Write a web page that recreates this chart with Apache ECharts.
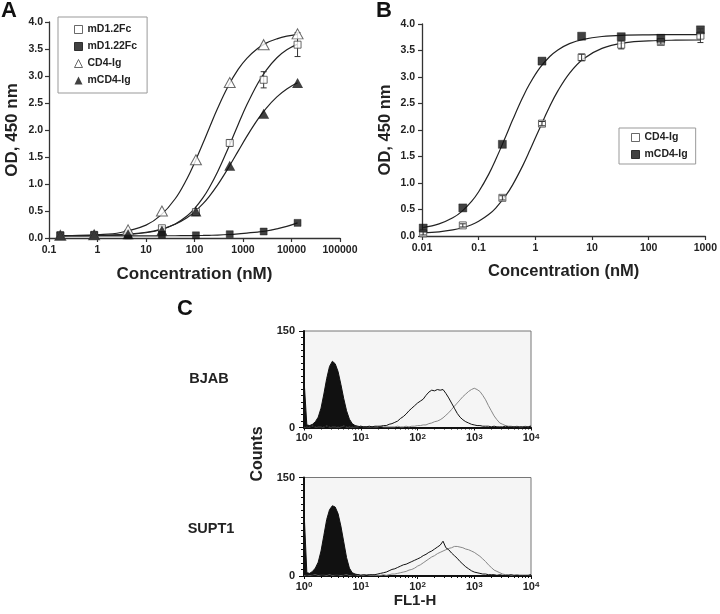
<!DOCTYPE html>
<html><head><meta charset="utf-8">
<script src="https://cdn.jsdelivr.net/npm/echarts@6/dist/echarts.min.js"></script>
<style>html,body{margin:0;padding:0;background:#fff}#c{width:720px;height:614px}</style>
</head><body><div id="c"></div>
<script>
// ---------- Panel A data ----------
const concA = [0.171, 0.853, 4.27, 21.3, 107, 533, 2667, 13333];
const mD12Fc_A = [0.05, 0.05, 0.08, 0.18, 0.48, 1.76, 2.93, 3.58];
const mD12Fc_errA = [0.01, 0.01, 0.02, 0.03, 0.03, 0.06, 0.15, 0.22];
const mD122Fc_A = [0.05, 0.06, 0.05, 0.06, 0.05, 0.07, 0.12, 0.28];
const CD4Ig_A = [0.05, 0.06, 0.15, 0.50, 1.45, 2.88, 3.58, 3.78];
const mCD4Ig_A = [0.05, 0.06, 0.07, 0.14, 0.49, 1.34, 2.30, 2.87];
// fitted curves
const fitX_A = [0.17, 0.3, 1, 3, 10, 20, 40, 70, 100, 150, 200, 300, 500, 800, 1200, 2000, 3000, 5000, 8000, 13333];
const fit_mD12Fc_A = [0.041, 0.042, 0.046, 0.057, 0.097, 0.153, 0.259, 0.407, 0.543, 0.747, 0.926, 1.227, 1.672, 2.107, 2.466, 2.858, 3.106, 3.338, 3.485, 3.590];
const fit_mD122Fc_A = [0.04, 0.04, 0.04, 0.04, 0.041, 0.041, 0.042, 0.043, 0.045, 0.047, 0.05, 0.055, 0.065, 0.078, 0.092, 0.11, 0.13, 0.17, 0.215, 0.28];
const fit_CD4Ig_A = [0.044, 0.046, 0.061, 0.102, 0.239, 0.418, 0.727, 1.098, 1.390, 1.758, 2.029, 2.403, 2.819, 3.126, 3.327, 3.508, 3.609, 3.688, 3.737, 3.770];
const fit_mCD4Ig_A = [0.042, 0.044, 0.049, 0.064, 0.107, 0.161, 0.256, 0.377, 0.484, 0.637, 0.768, 0.984, 1.300, 1.613, 1.882, 2.192, 2.402, 2.614, 2.761, 2.874];
const legendA = ['mD1.2Fc', 'mD1.22Fc', 'CD4-Ig', 'mCD4-Ig'];

// ---------- Panel B data ----------
const concB = [0.0105, 0.0525, 0.262, 1.31, 6.56, 32.8, 164, 820];
const CD4Ig_B = [0.05, 0.20, 0.72, 2.12, 3.37, 3.61, 3.66, 3.78];
const CD4Ig_errB = [0.03, 0.03, 0.04, 0.04, 0.06, 0.08, 0.04, 0.13];
const mCD4Ig_B = [0.15, 0.53, 1.73, 3.30, 3.77, 3.76, 3.73, 3.89];
const fitX_B = [0.0105, 0.02, 0.035, 0.05, 0.075, 0.1, 0.15, 0.2, 0.3, 0.4, 0.6, 0.8, 1.2, 1.8, 2.5, 4, 7, 15, 40, 100, 300, 820];
const fit_CD4Ig_B = [0.059, 0.079, 0.114, 0.151, 0.213, 0.277, 0.404, 0.527, 0.760, 0.970, 1.328, 1.616, 2.040, 2.447, 2.738, 3.070, 3.340, 3.541, 3.647, 3.681, 3.695, 3.698];
const fit_mCD4Ig_B = [0.160, 0.228, 0.343, 0.460, 0.652, 0.834, 1.163, 1.442, 1.878, 2.196, 2.616, 2.876, 3.171, 3.386, 3.511, 3.630, 3.711, 3.764, 3.789, 3.796, 3.799, 3.800];
const legendB = ['CD4-Ig', 'mCD4-Ig'];

// ---------- Panel C data (histogram counts per 0.05-decade channel, 10^0 .. 10^4) ----------
const FLOW_STEP = 0.05;
const BJAB_fill = [75,4,3,5,9,16,30,52,76,95,103,99,87,67,45,26,13,6,3,2,1,1,1,0,1,0,0,1,0,0,0,0,0,0,0,0,0,0,0,0,0,0,0,0,0,0,0,0,0,0,0,0,0,0,0,0,0,0,0,0,0,0,0,0,0,0,0,0,0,0,0,0,0,0,0,0,0,0,0,0,0];
const BJAB_black = [2,1,2,1,2,1,1,2,1,2,1,1,2,1,1,2,1,2,1,1,2,1,1,2,1,2,2,2,3,3,5,6,8,10,14,17,21,26,30,34,38,41,44,50,55,58,57,59,58,59,53,46,38,30,22,16,12,9,7,5,4,3,3,2,2,2,1,2,1,1,1,2,1,1,1,1,1,1,1,1,2];
const BJAB_gray = [1,1,1,2,1,1,1,1,2,1,1,1,1,1,2,1,1,1,1,1,2,1,1,1,1,1,1,2,1,1,1,1,1,2,1,1,2,1,2,2,3,3,4,4,6,7,9,10,12,15,19,23,28,33,38,43,48,52,56,59,61,59,56,50,43,34,26,18,12,7,5,3,2,2,1,2,1,1,2,1,3];
const SUPT1_fill = [100,5,4,7,12,21,38,62,86,101,107,105,95,76,52,28,12,5,3,2,1,1,1,1,0,1,0,0,0,0,0,0,0,0,0,0,0,0,0,0,0,0,0,0,0,0,0,0,0,0,0,0,0,0,0,0,0,0,0,0,0,0,0,0,0,0,0,0,0,0,0,0,0,0,0,0,0,0,0,0,0];
const SUPT1_black = [2,1,2,1,1,2,1,1,2,1,2,1,1,2,1,1,2,1,1,2,1,2,1,2,2,2,3,4,5,6,8,10,11,13,15,17,18,20,22,24,26,28,31,33,36,38,41,44,47,53,43,40,35,31,27,22,18,14,11,8,6,5,4,3,3,2,2,2,1,2,1,1,1,2,1,1,1,1,1,1,2];
const SUPT1_gray = [1,1,1,1,2,1,1,1,1,2,1,1,1,1,1,2,1,1,1,1,1,1,2,1,1,1,1,1,2,1,2,3,3,4,5,6,7,9,10,12,15,17,20,23,26,29,31,34,36,38,40,42,43,45,45,44,43,41,40,38,36,33,30,26,22,17,13,9,7,5,3,2,2,1,1,2,1,1,1,1,2];

const FONT = 'Liberation Sans, Arial, Helvetica, sans-serif';
const TXT = '#222';
const flow = arr => arr.map((c, i) => [Math.pow(10, i * FLOW_STEP), c]);
const pairs = (xs, ys) => xs.map((x, i) => [x, ys[i]]);
const errs = (xs, ys, es) => xs.map((x, i) => [x, ys[i] - es[i], ys[i] + es[i]]);

function logLabel(v) {
  if (v < 1) return String(+v.toPrecision(3));
  return String(Math.round(v));
}

function errRender(params, api) {
  const x = api.value(0), lo = api.value(1), hi = api.value(2);
  const p1 = api.coord([x, lo]), p2 = api.coord([x, hi]);
  const w = 3, st = { stroke: '#333', lineWidth: 1 };
  return { type: 'group', children: [
    { type: 'line', shape: { x1: p1[0], y1: p1[1], x2: p2[0], y2: p2[1] }, style: st },
    { type: 'line', shape: { x1: p1[0] - w, y1: p1[1], x2: p1[0] + w, y2: p1[1] }, style: st },
    { type: 'line', shape: { x1: p2[0] - w, y1: p2[1], x2: p2[0] + w, y2: p2[1] }, style: st }
  ]};
}

const axisLineBlack = { lineStyle: { color: '#333', width: 1.3 } };
const tickBlack = { length: 4, lineStyle: { color: '#333', width: 1.2 } };
const lblStyle = { color: TXT, fontFamily: FONT, fontWeight: 'bold', fontSize: 10.5 };

const openSq = { color: '#fff', borderColor: '#444', borderWidth: 1 };
const fillSq = { color: '#111', borderColor: '#111', borderWidth: 0.5 };
const fitLine = (name, xAxisIndex, yAxisIndex, xs, ys) => ({
  name, type: 'line', xAxisIndex, yAxisIndex, data: pairs(xs, ys), showSymbol: false,
  smooth: 0.4, lineStyle: { color: '#222', width: 1.2 }, z: 2, silent: true
});
const supRich = {
  b: { fontSize: 11, fontWeight: 'bold', color: TXT, fontFamily: FONT },
  s: { fontSize: 8, fontWeight: 'bold', color: TXT, fontFamily: FONT, verticalAlign: 'top', lineHeight: 8 }
};

const option = {
  animation: false,
  backgroundColor: '#fff',
  textStyle: { fontFamily: FONT },
  grid: [
    { left: 49, top: 22, width: 291, height: 216 },
    { left: 422, top: 24, width: 287, height: 212 },
    { left: 304, top: 331, width: 227, height: 96.5, show: true, backgroundColor: '#f5f5f5', borderColor: '#777', borderWidth: 1 },
    { left: 304, top: 477.5, width: 227, height: 98.5, show: true, backgroundColor: '#f5f5f5', borderColor: '#777', borderWidth: 1 }
  ],
  xAxis: [
    { gridIndex: 0, type: 'log', logBase: 10, min: 0.1, max: 100000,
      name: 'Concentration (nM)', nameLocation: 'middle', nameGap: 28,
      nameTextStyle: { color: TXT, fontFamily: FONT, fontWeight: 'bold', fontSize: 17 },
      axisLine: axisLineBlack, axisTick: tickBlack, splitLine: { show: false },
      axisLabel: Object.assign({ margin: 7, formatter: logLabel }, lblStyle) },
    { gridIndex: 1, type: 'log', logBase: 10, min: 0.01, max: 1000,
      name: 'Concentration (nM)', nameLocation: 'middle', nameGap: 27,
      nameTextStyle: { color: TXT, fontFamily: FONT, fontWeight: 'bold', fontSize: 16.5 },
      axisLine: axisLineBlack, axisTick: tickBlack, splitLine: { show: false },
      axisLabel: Object.assign({ margin: 7, formatter: logLabel }, lblStyle) },
    { gridIndex: 2, type: 'log', logBase: 10, min: 1, max: 10000,
      axisLine: { lineStyle: { color: '#111', width: 2 } },
      axisTick: { length: 3, lineStyle: { color: '#111' } },
      minorTick: { show: true, splitNumber: 9, length: 2, lineStyle: { color: '#111' } },
      splitLine: { show: false }, minorSplitLine: { show: false },
      axisLabel: { margin: 5, formatter: v => '{b|10}{s|' + Math.round(Math.log10(v)) + '}', rich: supRich } },
    { gridIndex: 3, type: 'log', logBase: 10, min: 1, max: 10000,
      axisLine: { lineStyle: { color: '#111', width: 2 } },
      axisTick: { length: 3, lineStyle: { color: '#111' } },
      minorTick: { show: true, splitNumber: 9, length: 2, lineStyle: { color: '#111' } },
      splitLine: { show: false }, minorSplitLine: { show: false },
      axisLabel: { margin: 5, formatter: v => '{b|10}{s|' + Math.round(Math.log10(v)) + '}', rich: supRich } }
  ],
  yAxis: [
    { gridIndex: 0, type: 'value', min: 0, max: 4, interval: 0.5,
      name: 'OD, 450 nm', nameLocation: 'middle', nameGap: 28, nameRotate: 90,
      nameTextStyle: { color: TXT, fontFamily: FONT, fontWeight: 'bold', fontSize: 17 },
      axisLine: Object.assign({ show: true }, axisLineBlack), axisTick: Object.assign({ show: true }, tickBlack),
      splitLine: { show: false },
      axisLabel: Object.assign({ margin: 6, formatter: v => v.toFixed(1) }, lblStyle) },
    { gridIndex: 1, type: 'value', min: 0, max: 4, interval: 0.5,
      name: 'OD, 450 nm', nameLocation: 'middle', nameGap: 28, nameRotate: 90,
      nameTextStyle: { color: TXT, fontFamily: FONT, fontWeight: 'bold', fontSize: 16.5 },
      axisLine: Object.assign({ show: true }, axisLineBlack), axisTick: Object.assign({ show: true }, tickBlack),
      splitLine: { show: false },
      axisLabel: Object.assign({ margin: 7, formatter: v => v.toFixed(1) }, lblStyle) },
    { gridIndex: 2, type: 'value', min: 0, max: 150, interval: 150,
      axisLine: { show: true, lineStyle: { color: '#111', width: 2 } },
      axisTick: { show: true, length: 5, lineStyle: { color: '#111' } },
      minorTick: { show: true, splitNumber: 15, length: 3, lineStyle: { color: '#111' } },
      splitLine: { show: false },
      axisLabel: Object.assign({}, lblStyle, { fontSize: 11, margin: 9 }) },
    { gridIndex: 3, type: 'value', min: 0, max: 150, interval: 150,
      axisLine: { show: true, lineStyle: { color: '#111', width: 2 } },
      axisTick: { show: true, length: 5, lineStyle: { color: '#111' } },
      minorTick: { show: true, splitNumber: 15, length: 3, lineStyle: { color: '#111' } },
      splitLine: { show: false },
      axisLabel: Object.assign({}, lblStyle, { fontSize: 11, margin: 9 }) }
  ],
  legend: [
    { data: legendA, orient: 'vertical', left: 58, top: 17, padding: [7, 10, 7, 16],
      itemGap: 6, itemWidth: 8, itemHeight: 8, borderColor: '#999', borderWidth: 1,
      backgroundColor: '#fff', selectedMode: false, itemStyle: { borderWidth: 1 },
      textStyle: { color: TXT, fontFamily: FONT, fontWeight: 'bold', fontSize: 10.5, lineHeight: 11 } },
    { data: legendB.map(n => 'B ' + n), orient: 'vertical', left: 619, top: 128, padding: [4, 8, 4, 12],
      itemGap: 6, itemWidth: 8, itemHeight: 8, borderColor: '#999', borderWidth: 1,
      backgroundColor: '#fff', selectedMode: false, itemStyle: { borderWidth: 1 },
      formatter: n => n.slice(2),
      textStyle: { color: TXT, fontFamily: FONT, fontWeight: 'bold', fontSize: 10.5, lineHeight: 11 } }
  ],
  series: [
    // Panel A fits
    fitLine('fitA1', 0, 0, fitX_A, fit_mD12Fc_A),
    fitLine('fitA2', 0, 0, fitX_A, fit_mD122Fc_A),
    fitLine('fitA3', 0, 0, fitX_A, fit_CD4Ig_A),
    fitLine('fitA4', 0, 0, fitX_A, fit_mCD4Ig_A),
    { name: 'errA', type: 'custom', xAxisIndex: 0, yAxisIndex: 0, renderItem: errRender,
      encode: { x: 0, y: [1, 2] }, data: errs(concA, mD12Fc_A, mD12Fc_errA), z: 3 },
    { name: 'mD1.2Fc', type: 'scatter', xAxisIndex: 0, yAxisIndex: 0, symbol: 'rect', symbolSize: 7,
      itemStyle: openSq, data: pairs(concA, mD12Fc_A), z: 4 },
    { name: 'mD1.22Fc', type: 'scatter', xAxisIndex: 0, yAxisIndex: 0, symbol: 'rect', symbolSize: 7,
      itemStyle: fillSq, data: pairs(concA, mD122Fc_A), z: 4 },
    { name: 'CD4-Ig', type: 'scatter', xAxisIndex: 0, yAxisIndex: 0, symbol: 'triangle', symbolSize: [11, 10],
      itemStyle: { color: '#fff', borderColor: '#444', borderWidth: 1 }, data: pairs(concA, CD4Ig_A), z: 4 },
    { name: 'mCD4-Ig', type: 'scatter', xAxisIndex: 0, yAxisIndex: 0, symbol: 'triangle', symbolSize: [11, 10],
      itemStyle: { color: '#111' }, data: pairs(concA, mCD4Ig_A), z: 5 },
    // Panel B
    fitLine('fitB1', 1, 1, fitX_B, fit_CD4Ig_B),
    fitLine('fitB2', 1, 1, fitX_B, fit_mCD4Ig_B),
    { name: 'B CD4-Ig', type: 'scatter', xAxisIndex: 1, yAxisIndex: 1, symbol: 'rect', symbolSize: 7,
      itemStyle: openSq, data: pairs(concB, CD4Ig_B), z: 4 },
    { name: 'errB', type: 'custom', xAxisIndex: 1, yAxisIndex: 1, renderItem: errRender,
      encode: { x: 0, y: [1, 2] }, data: errs(concB, CD4Ig_B, CD4Ig_errB), z: 5 },
    { name: 'B mCD4-Ig', type: 'scatter', xAxisIndex: 1, yAxisIndex: 1, symbol: 'rect', symbolSize: 8,
      itemStyle: fillSq, data: pairs(concB, mCD4Ig_B), z: 4 },
    // Panel C
    { name: 'BJAB ctrl', type: 'line', xAxisIndex: 2, yAxisIndex: 2, data: flow(BJAB_fill), showSymbol: false,
      lineStyle: { color: '#111', width: 1 }, areaStyle: { color: '#111', opacity: 1 }, z: 2 },
    { name: 'BJAB gray', type: 'line', xAxisIndex: 2, yAxisIndex: 2, data: flow(BJAB_gray), showSymbol: false,
      lineStyle: { color: '#888', width: 1 }, z: 3 },
    { name: 'BJAB black', type: 'line', xAxisIndex: 2, yAxisIndex: 2, data: flow(BJAB_black), showSymbol: false,
      lineStyle: { color: '#111', width: 1 }, z: 4 },
    { name: 'SUPT1 ctrl', type: 'line', xAxisIndex: 3, yAxisIndex: 3, data: flow(SUPT1_fill), showSymbol: false,
      lineStyle: { color: '#111', width: 1 }, areaStyle: { color: '#111', opacity: 1 }, z: 2 },
    { name: 'SUPT1 gray', type: 'line', xAxisIndex: 3, yAxisIndex: 3, data: flow(SUPT1_gray), showSymbol: false,
      lineStyle: { color: '#888', width: 1 }, z: 3 },
    { name: 'SUPT1 black', type: 'line', xAxisIndex: 3, yAxisIndex: 3, data: flow(SUPT1_black), showSymbol: false,
      lineStyle: { color: '#111', width: 1 }, z: 4 }
  ],
  graphic: [
    { type: 'text', left: 1, top: 0, style: { text: 'A', font: 'bold 22px ' + FONT, fill: '#111' } },
    { type: 'text', left: 376, top: 0, style: { text: 'B', font: 'bold 22px ' + FONT, fill: '#111' } },
    { type: 'text', left: 177, top: 298, style: { text: 'C', font: 'bold 22px ' + FONT, fill: '#111' } },
    { type: 'text', x: 209, y: 379, style: { text: 'BJAB', font: 'bold 14.5px ' + FONT, fill: TXT, textAlign: 'center', textVerticalAlign: 'middle' } },
    { type: 'text', x: 211, y: 529, style: { text: 'SUPT1', font: 'bold 14.5px ' + FONT, fill: TXT, textAlign: 'center', textVerticalAlign: 'middle' } },
    { type: 'text', x: 258, y: 454, rotation: Math.PI / 2, style: { text: 'Counts', font: 'bold 16px ' + FONT, fill: TXT, textAlign: 'center', textVerticalAlign: 'middle' } },
    { type: 'text', x: 415, y: 601, style: { text: 'FL1-H', font: 'bold 15px ' + FONT, fill: TXT, textAlign: 'center', textVerticalAlign: 'middle' } }
  ]
};

const chart = echarts.init(document.getElementById('c'), null, { renderer: 'canvas' });
chart.setOption(option);
</script>
</body></html>
